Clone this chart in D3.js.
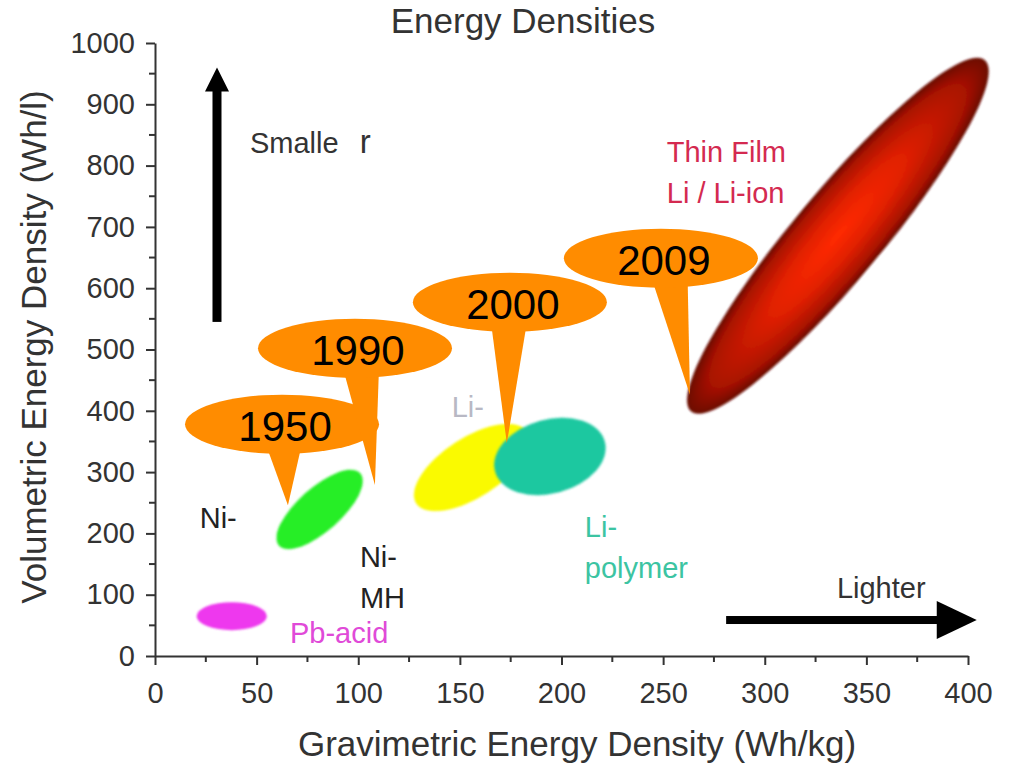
<!DOCTYPE html>
<html>
<head>
<meta charset="utf-8">
<script src="https://cdn.jsdelivr.net/npm/d3@7"></script>
<style>
  body { margin: 0; background: #fff; }
  text { font-family: "Liberation Sans", Arial, sans-serif; fill: #2a2a2a; }
  .axis path, .axis line { stroke: #333; stroke-width: 2; }
  .axis text { font-size: 29px; fill: #333; }
</style>
</head>
<body>
<div id="chart" style="width:1010px;height:768px"></div>
<script>
// regions (major axis endpoints in data units, minor/major ratio)
const regions = ["Pb-acid", "Ni-Cd / Ni-MH", "Li-ion", "Li-polymer", "Thin Film Li / Li-ion"];
const gravFrom = [20.5, 61, 128.5, 167.3, 264];
const volFrom = [65, 180, 249, 301, 400];
const gravTo = [55, 101, 183, 221.3, 408];
const volTo = [65, 298, 366, 350, 971];
const widthRatio = [0.4, 0.4, 0.45, 0.65, 0.19];

// year callouts
const years = ["1950", "1990", "2000", "2009"];
const yearTipGrav = [65.4, 108.2, 173.1, 263.2];
const yearTipVol = [246, 279, 347, 426];
const yearBubbleGrav = [62.5, 98.4, 174.6, 248.9];
const yearBubbleVol = [378, 502, 577, 649];

// text labels
const labelLines = [["Ni-"], ["Ni-", "MH"], ["Pb-acid"], ["Li-"], ["Li-", "polymer"], ["Thin Film", "Li / Li-ion"], ["Lighter"]];
const labelGrav = [22, 100.8, 66.4, 146, 211.5, 251.8, 335.5];
const labelVol = [209, 145, 21, 390, 194, 806, 94.6];

// arrows
const upArrowGrav = [30.5, 30.5];
const upArrowVol = [545, 960];
const rightArrowGrav = [281, 404.3];
const rightArrowVol = [58.7, 58.7];

// axis ticks
const xTicks = d3.range(0, 401, 50);
const xMinor = d3.range(25, 400, 50);
const yTicks = d3.range(0, 1001, 100);
const yMinor = d3.range(50, 1000, 100);

function chart(params) {
  const container = d3.select(params.container);
  const width = 1010;
  const height = 768;
  const marginTop = 43;
  const marginLeft = 155;
  const marginBottom = 112;
  const marginRight = 42;

  const xScale = d3.scaleLinear().domain([0, 400]).range([marginLeft, width - marginRight]);
  const yScale = d3.scaleLinear().domain([0, 1000]).range([height - marginBottom, marginTop]);

  const svg = container.append("svg").attr("width", width).attr("height", height);
  const defs = svg.append("defs");

  const blur = defs.append("filter").attr("id", "soft").attr("x", "-20%").attr("y", "-20%").attr("width", "140%").attr("height", "140%");
  blur.append("feGaussianBlur").attr("stdDeviation", 1.1);

  const grad = defs.append("radialGradient").attr("id", "redGlow");
  grad.append("stop").attr("offset", "0%").attr("stop-color", "#ff2a00");
  grad.append("stop").attr("offset", "45%").attr("stop-color", "#e02000");
  grad.append("stop").attr("offset", "85%").attr("stop-color", "#a81200");
  grad.append("stop").attr("offset", "100%").attr("stop-color", "#6e0800");

  const regionFill = ["#ee38ee", "#28ee28", "#fafa00", "#1ec8a0", "url(#redGlow)"];

  // axes
  const xaxis = d3.axisBottom(xScale).tickValues(xTicks).tickSize(9).tickSizeOuter(0).tickPadding(17);
  const yaxis = d3.axisLeft(yScale).tickValues(yTicks).tickFormat(d3.format("d"))
    .tickSize(9).tickSizeOuter(0).tickPadding(11);

  const gx = svg.append("g").attr("class", "axis")
    .attr("transform", `translate(0, ${yScale(0)})`).call(xaxis);
  gx.selectAll(".minor").data(xMinor).join("line").attr("class", "minor")
    .attr("x1", (d) => xScale(d)).attr("x2", (d) => xScale(d))
    .attr("y1", 0).attr("y2", 6);

  const gy = svg.append("g").attr("class", "axis")
    .attr("transform", `translate(${xScale(0)}, 0)`).call(yaxis);
  gy.selectAll(".minor").data(yMinor).join("line").attr("class", "minor")
    .attr("y1", (d) => yScale(d)).attr("y2", (d) => yScale(d))
    .attr("x1", 0).attr("x2", -6);

  // titles
  svg.append("text").attr("x", 523).attr("y", 33).attr("text-anchor", "middle")
    .style("font-size", "35px").style("fill", "#333").text("Energy Densities");
  svg.append("text").attr("x", 577).attr("y", 756).attr("text-anchor", "middle")
    .style("font-size", "35px").style("fill", "#333").text("Gravimetric Energy Density (Wh/kg)");
  svg.append("text").attr("transform", "translate(46, 347) rotate(-90)").attr("text-anchor", "middle")
    .style("font-size", "35px").style("fill", "#333").text("Volumetric Energy Density (Wh/l)");

  // region ellipses
  const regionGroup = svg.append("g");
  regions.forEach((name, i) => {
    const x1 = xScale(gravFrom[i]), y1 = yScale(volFrom[i]);
    const x2 = xScale(gravTo[i]), y2 = yScale(volTo[i]);
    const rx = Math.hypot(x2 - x1, y2 - y1) / 2;
    const angle = (Math.atan2(y2 - y1, x2 - x1) * 180) / Math.PI;
    regionGroup.append("ellipse")
      .attr("transform", `translate(${(x1 + x2) / 2}, ${(y1 + y2) / 2}) rotate(${angle})`)
      .attr("rx", rx)
      .attr("ry", rx * widthRatio[i])
      .attr("fill", regionFill[i])
      .attr("stroke", i === 4 ? "#6a0a00" : "none")
      .attr("stroke-width", 1.5)
      .attr("filter", "url(#soft)");
  });

  // labels
  const labelColor = ["#222", "#222", "#e04ad8", "#b8b8c4", "#3cc4a2", "#d42a50", "#333"];
  labelLines.forEach((lines, i) => {
    const t = svg.append("text")
      .attr("x", xScale(labelGrav[i]))
      .attr("y", yScale(labelVol[i]))
      .style("font-size", "29px")
      .style("fill", labelColor[i]);
    t.selectAll("tspan").data(lines).join("tspan")
      .attr("x", xScale(labelGrav[i]))
      .attr("dy", (d, j) => (j === 0 ? 0 : 41))
      .text((d) => d);
  });

  const smaller = svg.append("text")
    .attr("x", xScale(46.7)).attr("y", yScale(820.6))
    .style("font-size", "29px").style("fill", "#333")
    .text("Smalle");
  smaller.append("tspan").attr("dx", 12).style("font-size", "33px").text(" r");

  // arrows
  const arrows = svg.append("g").attr("fill", "#000");
  const ux = xScale(upArrowGrav[0]);
  const uy0 = yScale(upArrowVol[0]);
  const uy1 = yScale(upArrowVol[1]);
  arrows.append("rect").attr("x", ux - 4.5).attr("y", uy1 + 20).attr("width", 9).attr("height", uy0 - uy1 - 20);
  arrows.append("path").attr("d", `M${ux},${uy1} L${ux + 12},${uy1 + 24} L${ux - 12},${uy1 + 24} Z`);

  const ry0 = yScale(rightArrowVol[0]);
  const rx0 = xScale(rightArrowGrav[0]);
  const rx1 = xScale(rightArrowGrav[1]);
  arrows.append("rect").attr("x", rx0).attr("y", ry0 - 4).attr("width", rx1 - rx0 - 36).attr("height", 8);
  arrows.append("path").attr("d", `M${rx1},${ry0} L${rx1 - 40},${ry0 - 19} L${rx1 - 40},${ry0 + 19} Z`);

  // year callouts
  const bubbles = svg.append("g").attr("fill", "#ff8c00");
  years.forEach((yr, i) => {
    const cx = xScale(yearBubbleGrav[i]);
    const cy = yScale(yearBubbleVol[i]);
    const tx = xScale(yearTipGrav[i]);
    const ty = yScale(yearTipVol[i]);
    const bx = cx + (tx - cx) * 0.3;
    bubbles.append("path").attr("d", `M${bx - 18},${cy + 20} L${bx + 18},${cy + 20} L${tx},${ty} Z`);
    bubbles.append("ellipse").attr("cx", cx).attr("cy", cy).attr("rx", 97).attr("ry", 29.5);
  });
  years.forEach((yr, i) => {
    svg.append("text")
      .attr("x", xScale(yearBubbleGrav[i]) + 3)
      .attr("y", yScale(yearBubbleVol[i]) + 17)
      .attr("text-anchor", "middle")
      .style("font-size", "42px")
      .style("fill", "#000")
      .text(yr);
  });
}

chart({ container: "#chart" });
</script>
</body>
</html>
